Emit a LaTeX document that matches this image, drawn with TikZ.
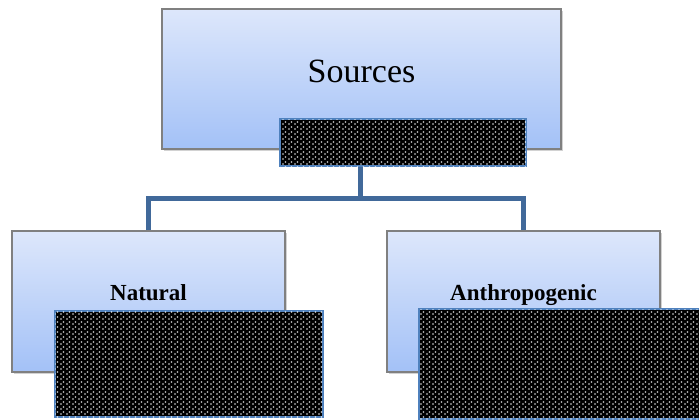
\documentclass[tikz,border=0pt]{standalone}
\usepackage{fontspec}
\setmainfont{Liberation Serif}
\usetikzlibrary{patterns.meta,shadows}
\definecolor{boxtop}{HTML}{DDE7FB}
\definecolor{boxbot}{HTML}{A3C1F7}
\definecolor{boxedge}{HTML}{808080}
\definecolor{conncol}{HTML}{41699A}
\definecolor{dotedge}{HTML}{4F81BD}
\tikzdeclarepattern{
  name=sparsedots,
  type=uncolored,
  bottom left={(0pt,0pt)},
  top right={(6pt,5pt)},
  tile size={(6pt,5pt)},
  code={
    \pgfpathrectangle{\pgfpoint{0.4pt}{0.4pt}}{\pgfpoint{1.5pt}{1.5pt}}
    \pgfpathrectangle{\pgfpoint{3.4pt}{2.9pt}}{\pgfpoint{1.5pt}{1.5pt}}
    \pgfusepath{fill}
  }
}
\tikzset{
  bluebox/.style={rectangle, draw=boxedge, line width=1.2pt, top color=boxtop, bottom color=boxbot, inner sep=0pt,
    drop shadow={shadow xshift=1.5pt, shadow yshift=-2pt, opacity=0.35}},
  dotbox/.style={rectangle, draw=dotedge, line width=2pt, fill=black, inner sep=0pt,
    postaction={pattern=sparsedots, pattern color=white}},
  conn/.style={draw=conncol, line width=5pt},
  lbl/.style={inner sep=0pt, anchor=base}
}
\begin{document}
\begin{tikzpicture}[x=1pt,y=-1pt]
\useasboundingbox (0,0) rectangle (699,420);
\clip (0,0) rectangle (699,420);
\fill[white] (0,0) rectangle (699,420);
% top
\node[bluebox, minimum width=399pt, minimum height=140pt] (top) at (361.5,79) {};
\node[lbl, font=\fontsize{34}{40}\selectfont] (toplbl) at (361.5,83) {Sources};
\node[dotbox, minimum width=246pt, minimum height=47pt] (tsm) at (403,142.5) {};
% connectors
\coordinate (bar) at (360,198.5);
% bottom boxes
\node[bluebox, minimum width=273pt, minimum height=141pt] (left) at (148.5,301.5) {};
\node[bluebox, minimum width=273pt, minimum height=141pt] (right) at (523.5,301.5) {};
\draw[conn] (tsm.south -| bar) -- (bar);
\draw[conn] (left.north) |- (bar) -| (right.north);
\node[lbl, font=\fontsize{23}{28}\selectfont\bfseries] (leftlbl) at (148.5,300) {Natural};
\node[lbl, font=\fontsize{23}{28}\selectfont\bfseries] (rightlbl) at (523.5,300) {Anthropogenic};
\node[dotbox, minimum width=268pt, minimum height=106pt] (ldot) at (189,364) {};
\node[dotbox, minimum width=290pt, minimum height=110pt] (rdot) at (564,364) {};
\end{tikzpicture}
\end{document}
